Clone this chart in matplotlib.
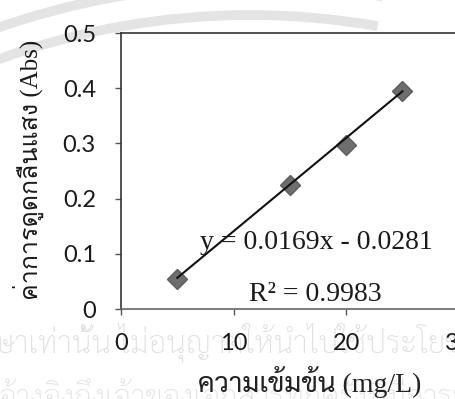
import matplotlib
matplotlib.use("Agg")
import numpy as np
import matplotlib.pyplot as plt
from matplotlib.patches import Arc

# ข้อมูลกราฟมาตรฐาน
concentration = [5, 15, 20, 25]            # mg/L
absorbance = [0.055, 0.225, 0.298, 0.395]  # Abs
slope = 0.0169
intercept = -0.0281
equation_text = "y = 0.0169x - 0.0281"
r2_text = "R² = 0.9983"

x_ticks = [0, 10, 20, 30]
x_tick_labels = ["0", "10", "20", "30"]
y_ticks = [0, 0.1, 0.2, 0.3, 0.4, 0.5]
y_tick_labels = ["0", "0.1", "0.2", "0.3", "0.4", "0.5"]

x_label = "ความเข้มข้น (mg/L)"
y_label = "ค่าการดูดกลืนแสง (Abs)"
watermark_1 = "ษาเท่านั้น ไม่อนุญาตให้นำไปใช้ประโยชน์"
watermark_2 = "อ้างอิงถึงเจ้าของเอกสารทุกครั้งที่มีการนำไปใช้"

W, H = 456, 399
fig = plt.figure(figsize=(W / 100, H / 100), dpi=100)

# ลายน้ำ (ส่วนโค้งสีเทาด้านซ้ายบน + ข้อความจาง ๆ)
for r in (735, 765):
    arc = Arc((250 / 100, (H - 750) / 100), 2 * r / 100, 2 * r / 100,
              theta1=80, theta2=120, color="#e4e4e4", lw=7,
              transform=fig.dpi_scale_trans, zorder=-2)
    fig.add_artist(arc)
fig.text(-6 / W, (H - 353) / H, watermark_1, family="Sarabun", fontsize=22.5,
         fontweight="light", color="#e0e0e0", ha="left", va="baseline",
         zorder=-1)
fig.text(-2 / W, (H - 407) / H, watermark_2, family="Sarabun", fontsize=22.5,
         fontweight="light", color="#e4e4e4", ha="left", va="baseline",
         zorder=-1)

ax = fig.add_axes([121 / W, 90 / H, 394 / W, 276 / H])
ax.patch.set_alpha(0)

ax.plot(concentration, absorbance, "D", ms=10, mfc="#6e6e6e", mec="#5c5c5c",
        mew=1, zorder=3)
fit_x = np.array([min(concentration), max(concentration)])
ax.plot(fit_x, slope * fit_x + intercept, color="#111111", lw=1.5, zorder=4)

ax.text(17.4, 0.121, equation_text, family="Liberation Serif", fontsize=20,
        ha="center", va="center", color="#1a1a1a", zorder=5)
ax.text(17.3, 0.027, r2_text, family="Liberation Serif", fontsize=20,
        ha="center", va="center", color="#1a1a1a", zorder=5)

ax.set_xlim(0, 35)
ax.set_ylim(0, 0.5)
ax.set_xticks(x_ticks)
ax.set_xticklabels(x_tick_labels)
ax.set_yticks(y_ticks)
ax.set_yticklabels(y_tick_labels)

for lab in ax.get_xticklabels() + ax.get_yticklabels():
    lab.set_family("Lato")
    lab.set_color("#1a1a1a")
ax.tick_params(axis="both", direction="out", length=4, width=1,
               color="#555555", labelsize=17)
ax.tick_params(axis="y", pad=14)
ax.tick_params(axis="x", pad=13)

ax.spines["right"].set_visible(False)
ax.spines["top"].set_color("#333333")
ax.spines["left"].set_color("#333333")
ax.spines["bottom"].set_color("#666666")
for s in ("top", "left", "bottom"):
    ax.spines[s].set_linewidth(1.2)

ax.set_xlabel(x_label, family=["Liberation Serif", "Sarabun"], fontsize=20,
              color="#222222")
ax.xaxis.set_label_coords(0.48, -0.264)
ax.xaxis.label.set_va("center")
ax.set_ylabel(y_label, family=["Liberation Serif", "Loma"], fontsize=18,
              color="#1a1a1a")
ax.yaxis.set_label_coords(-0.236, 0.504)
ax.yaxis.label.set_va("center")

fig.savefig("out.png", dpi=100)
